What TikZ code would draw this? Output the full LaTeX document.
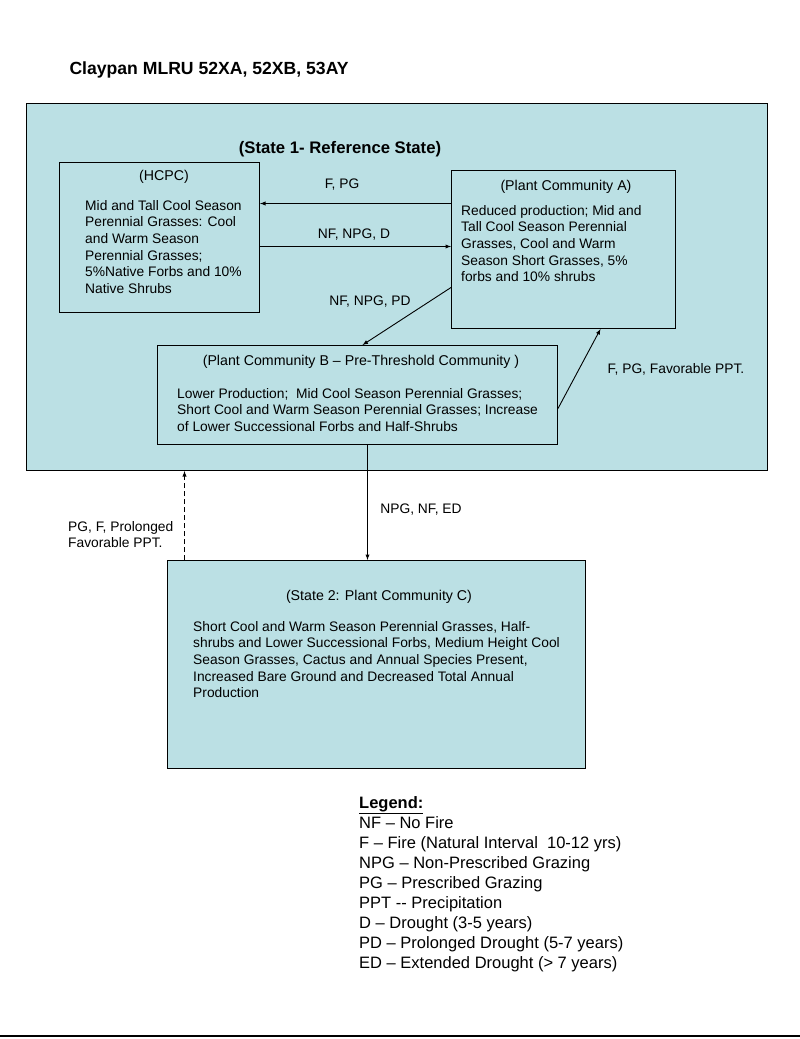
\documentclass[tikz,border=0pt]{standalone}
\usepackage{fontspec}
\setmainfont{Liberation Sans}
\usetikzlibrary{arrows}

\definecolor{statefill}{RGB}{187,224,228}

\begin{document}
\begin{tikzpicture}[
						x=1pt, y=-1pt,
						box/.style={draw, fill=statefill, line width=1pt, anchor=north west, inner sep=0pt},
						boxtext/.style={font=\fontsize{13.8}{16.6}\selectfont, align=left, anchor=north west, inner sep=0pt},
						head/.style={font=\fontsize{14.2}{16.6}\selectfont, anchor=base, inner sep=0pt},
						lbl/.style={font=\fontsize{13.8}{16.6}\selectfont, inner sep=0pt},
						arr/.style={draw, line width=0.9pt, -latex}
				]
    \path[fill=white, use as bounding box] (0,0) rectangle (800,1039);

    \node [anchor=base west, font=\bfseries\fontsize{17.6}{20}\selectfont] (Title) at (66,74.5) {Claypan MLRU 52XA, 52XB, 53AY};

    % state 1 and its communities
    \node [box, minimum width=741pt, minimum height=367pt] (State1) at (26,103) {};
    \node [anchor=base, font=\bfseries\fontsize{16.7}{18}\selectfont, inner sep=0pt] (State1head) at (340,153) {(State 1- Reference State)};

    \node [box, minimum width=200pt, minimum height=150pt] (HCPC) at (59,162) {};
    \node [head] (HCPChead) at (164,180) {(HCPC)};
    \node [boxtext] (HCPCbody) at (85,200) {Mid and Tall Cool Season\\Perennial Grasses: Cool\\and Warm Season\\Perennial Grasses;\\5\%Native Forbs and 10\%\\Native Shrubs};

    \node [box, minimum width=224pt, minimum height=158pt] (PCA) at (451,170) {};
    \node [head] (PCAhead) at (566,190) {(Plant Community A)};
    \node [boxtext] (PCAbody) at (461,205) {Reduced production; Mid and\\Tall Cool Season Perennial\\Grasses, Cool and Warm\\Season Short Grasses, 5\%\\forbs and 10\% shrubs};

    \node [box, minimum width=400pt, minimum height=99pt] (PCB) at (157,345) {};
    \node [head] (PCBhead) at (361,365) {(Plant Community B -- Pre-Threshold Community )};
    \node [boxtext] (PCBbody) at (177,388) {Lower Production;\ \ Mid Cool Season Perennial Grasses;\\Short Cool and Warm Season Perennial Grasses; Increase\\of Lower Successional Forbs and Half-Shrubs};

    % state 2
    \node [box, minimum width=418pt, minimum height=208pt] (State2) at (167,560) {};
    \node [head] (State2head) at (379,600) {(State 2: Plant Community C)};
    \node [boxtext] (State2body) at (193,621) {Short Cool and Warm Season Perennial Grasses, Half-\\shrubs and Lower Successional Forbs, Medium Height Cool\\Season Grasses, Cactus and Annual Species Present,\\Increased Bare Ground and Decreased Total Annual\\Production};

    % transitions
    \draw[arr] ([yshift=46pt]PCA.west) -- ([yshift=34pt]HCPC.east);
    \node [lbl] (FPG) at (342,185) {F, PG};
    \draw[arr] ([yshift=-9pt]HCPC.east) -- ([yshift=3pt]PCA.west);
    \node [lbl] (NFNPGD) at (354,235) {NF, NPG, D};
    \draw[arr] ([yshift=-38pt]PCA.west) -- ([xshift=5pt]PCB.north);
    \node [lbl] (NFNPGPD) at (370,302) {NF, NPG, PD};
    \draw[arr] ([yshift=-13.5pt]PCB.east) -- ([xshift=37pt]PCA.south);
    \node [lbl] (FPGPPT) at (676,369) {F, PG, Favorable PPT.};
    \draw[arr] ([xshift=10pt]PCB.south) -- ([xshift=-9pt]State2.north);
    \node [lbl] (NPGNFED) at (421,510) {NPG, NF, ED};
    \draw[arr, dash pattern=on 5pt off 3pt] ([xshift=-192pt]State2.north) -- ([xshift=-212.5pt]State1.south);
    \node [boxtext, font=\fontsize{13.8}{16.5}\selectfont] (PGFPPT) at (68,521) {PG, F, Prolonged\\Favorable PPT.};

    % legend
    \node [boxtext, font=\fontsize{16.5}{20}\selectfont] (Legend) at (359,796) {\underline{\textbf{Legend:}}\\NF – No Fire\\F – Fire (Natural Interval\ \ 10-12 yrs)\\NPG – Non-Prescribed Grazing\\PG – Prescribed Grazing\\PPT -{}- Precipitation\\D – Drought (3-5 years)\\PD – Prolonged Drought (5-7 years)\\ED – Extended Drought (> 7 years)};

    \draw[line width=2pt] (0,1035.5) -- (800,1035.5);
  \end{tikzpicture}
\end{document}
